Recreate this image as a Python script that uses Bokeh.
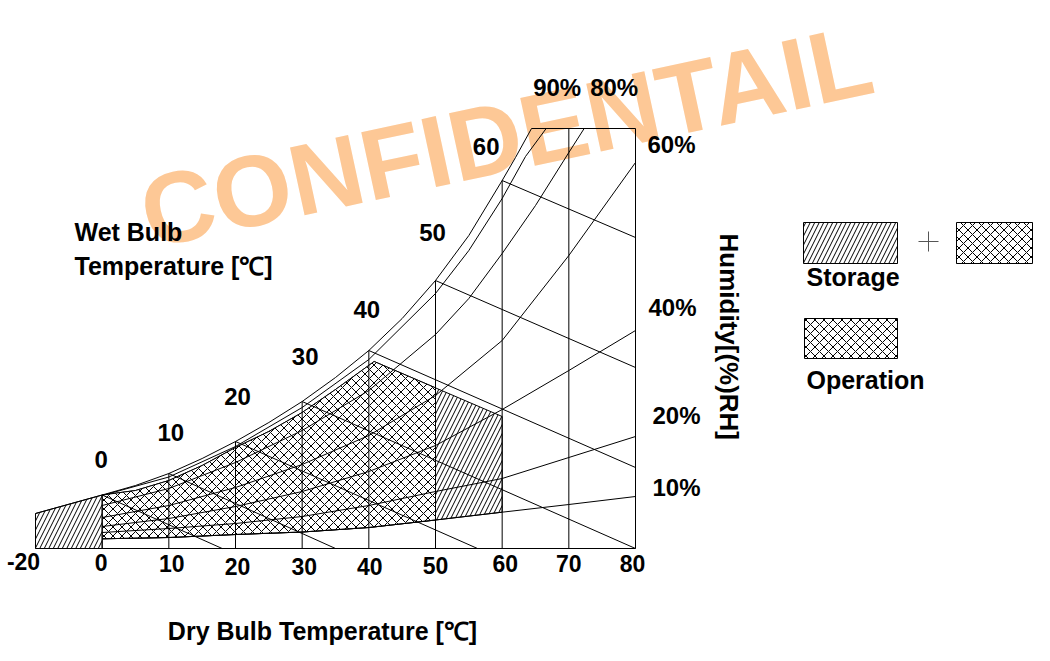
import numpy as np
from bokeh.plotting import figure
from bokeh.models import ColumnDataSource
from bokeh.core.properties import value
from bokeh.embed import file_html
from bokeh.resources import INLINE

# ---------------- data ----------------
# x: dry bulb temperature [°C]; h: chart humidity height (0 = base line, 420 = top of chart)
dry_bulb_ticks = [-20, 0, 10, 20, 30, 40, 50, 60, 70, 80]
wet_bulb_temps = [0, 10, 20, 30, 40, 50, 60]

sat_T = [-20, 0, 5, 10, 15, 20, 25, 30, 35, 40, 45, 50, 55, 60, 62, 64.4]
sat_h = [35, 53.5, 63, 75, 90, 107, 126, 147, 171, 198, 230, 268, 313, 368, 391, 420]

rh90_T = [0, 10, 20, 30, 40, 50, 55, 60, 63.5, 66.6]
rh90_h = [53, 71.5, 102, 141, 189, 255, 298, 350, 392, 420]
rh80_T = [0, 10, 20, 30, 40, 50, 55, 60, 65, 70, 72.3]
rh80_h = [43, 60, 86, 118, 158, 214, 250, 295, 343, 396, 420]
rh_T = [0, 10, 20, 30, 40, 50, 60, 70, 80]
rh60_h = [31, 43, 61, 84, 113, 153, 208, 293, 386]
rh40_h = [22, 30, 42, 57, 77, 103, 139, 178, 218]
rh20_h = [16, 20, 25, 32, 43, 57, 70, 91, 112]
rh10_h = [9.7, 11, 14, 16.5, 21, 28.5, 36.3, 44, 52]

# wet bulb lines: start on the saturation curve, end points
wb_end_T = [18, 35, 56.3, 80, 80, 80, 80]
wb_end_h = [0, 0, 0, 0, 81, 181, 311]

# boundary of the storage / operation zones (top edge)
zone_top_T = [0, 5, 10, 15, 20, 25, 30, 35, 40.8, 60]
zone_top_h = [53.5, 58, 68, 83, 101, 117, 136, 159, 187, 132]
storage_T = (-20, 60)
operation_T = (0, 50)
chart_top_h = 420

# ---------------- layout helpers ----------------
W, H = 1034, 645
PX_PER_DEG = 20 / 3
# picture position (px) of 0 °C and of the chart base line
X0_PAGE, Y0_PAGE = 101.67, 548


def xpos(T):
    # the -20..0 °C span is drawn at half scale
    return T if T >= 0 else T / 2


def xs(Ts):
    return [xpos(t) for t in Ts]


def px_x(page_x):
    return (page_x - X0_PAGE) / PX_PER_DEG


def px_y(page_y):
    return Y0_PAGE - page_y


p = figure(width=W, height=H,
           x_range=(px_x(0), px_x(W)), y_range=(px_y(H), px_y(0)),
           output_backend="svg", toolbar_location=None, min_border=0,
           x_axis_location=None, y_axis_location=None)
p.outline_line_color = None
p.grid.visible = False
p.background_fill_color = "white"
p.border_fill_color = "white"

FONT = value("Liberation Sans")
HATCH_SCALE = 9

# watermark (font size kept off x00px values)
p.text(x=[px_x(142)], y=[px_y(214)], text=["CONFIDENTAIL"], angle=0.212,
       text_font=value("Liberation Sans"), text_font_style="bold",
       text_font_size="101px", text_color="#FDC896",
       text_align="left", text_baseline="alphabetic")

# ---------------- zones ----------------
sT0, sT1 = storage_T
rh10_to60 = [(t, h) for t, h in zip(rh_T, rh10_h) if t <= sT1]
st_x = [sT0, sT0] + zone_top_T + [t for t, _ in reversed(rh10_to60)] + [0]
st_y = [0, sat_h[0]] + zone_top_h + [h for _, h in reversed(rh10_to60)] + [0]
p.patch(xs(st_x), st_y, fill_color="white", hatch_pattern="/", hatch_scale=HATCH_SCALE,
        hatch_weight=1, hatch_color="black", line_color="black", line_width=1)

oT0, oT1 = operation_T
op_top = [(t, h) for t, h in zip(zone_top_T, zone_top_h) if t < oT1]
op_bot = [(t, h) for t, h in zip(rh_T, rh10_h) if oT0 <= t < oT1]
op_x = [t for t, _ in op_top] + [oT1, oT1] + [t for t, _ in reversed(op_bot)]
op_y = ([h for _, h in op_top] + [float(np.interp(oT1, zone_top_T, zone_top_h)),
                                   float(np.interp(oT1, rh_T, rh10_h))]
        + [h for _, h in reversed(op_bot)])
p.patch(xs(op_x), op_y, fill_color="white", hatch_pattern="x", hatch_scale=HATCH_SCALE,
        hatch_weight=1, hatch_color="black", line_color="black", line_width=1)

# ---------------- grid of the chart ----------------
LC, LW = "black", 1
vert_T = [t for t in dry_bulb_ticks if 0 <= t < 80]
vert_top = [min(float(np.interp(t, sat_T, sat_h)), chart_top_h) for t in vert_T]
p.segment(x0=xs(vert_T), y0=[0] * len(vert_T), x1=xs(vert_T), y1=vert_top,
          line_color=LC, line_width=LW)
p.segment(x0=[80], y0=[0], x1=[80], y1=[chart_top_h], line_color=LC, line_width=LW)
p.segment(x0=[sat_T[-1]], y0=[chart_top_h], x1=[80], y1=[chart_top_h],
          line_color=LC, line_width=LW)
p.segment(x0=[xpos(-20)], y0=[0], x1=[80], y1=[0], line_color=LC, line_width=LW)

p.line(xs(sat_T), sat_h, line_color=LC, line_width=LW)
for Ts, hs in [(rh90_T, rh90_h), (rh80_T, rh80_h), (rh_T, rh60_h),
               (rh_T, rh40_h), (rh_T, rh20_h), (rh_T, rh10_h)]:
    p.line(xs(Ts), hs, line_color=LC, line_width=LW)

wb_start_h = [float(np.interp(t, sat_T, sat_h)) for t in wet_bulb_temps]
p.segment(x0=xs(wet_bulb_temps), y0=wb_start_h, x1=xs(wb_end_T), y1=wb_end_h,
          line_color=LC, line_width=LW)

# ---------------- labels ----------------
tick_src = ColumnDataSource(dict(
    x=xs(dry_bulb_ticks), y=[0] * len(dry_bulb_ticks),
    text=[str(t) for t in dry_bulb_ticks],
    xo=[-12, -1, 3, 2, 2, 1, 0, 3, 0, -3],
    yo=[13, 14, 15, 18, 18, 18, 17, 15, 15, 15]))
p.text(x="x", y="y", text="text", x_offset="xo", y_offset="yo", source=tick_src,
       text_font=FONT, text_font_style="bold", text_font_size="23px",
       text_color="black", text_align="center", text_baseline="alphabetic")

wb_src = ColumnDataSource(dict(
    x=xs(wet_bulb_temps), y=wb_start_h, text=[str(t) for t in wet_bulb_temps],
    xo=[-1, 2, 2, 3, -2, -3, -16], yo=[-36, -41, -45, -45, -41, -48, -34]))
p.text(x="x", y="y", text="text", x_offset="xo", y_offset="yo", source=wb_src,
       text_font=FONT, text_font_style="bold", text_font_size="24px",
       text_color="black", text_align="center", text_baseline="alphabetic")

top_src = ColumnDataSource(dict(
    x=[rh90_T[-1], rh80_T[-1]], y=[chart_top_h, chart_top_h], text=["90%", "80%"],
    xo=[11, 30], yo=[-41, -41]))
p.text(x="x", y="y", text="text", x_offset="xo", y_offset="yo", source=top_src,
       text_font=FONT, text_font_style="bold", text_font_size="24px",
       text_color="black", text_align="center", text_baseline="alphabetic")

side_src = ColumnDataSource(dict(
    x=[80] * 4, y=[rh60_h[-1], rh40_h[-1], rh20_h[-1], rh10_h[-1]],
    text=["60%", "40%", "20%", "10%"], xo=[12, 13, 17, 17], yo=[-18, -23, -21, -9]))
p.text(x="x", y="y", text="text", x_offset="xo", y_offset="yo", source=side_src,
       text_font=FONT, text_font_style="bold", text_font_size="24px",
       text_color="black", text_align="left", text_baseline="alphabetic")

static = [
    ("Wet Bulb", 74, 231, "left", 0.0, "25px"),
    ("Temperature [\u2103]", 74, 265, "left", 0.0, "25px"),
    ("Dry Bulb Temperature [\u2103]", 322, 630, "center", 0.0, "25px"),
    ("Storage", 806, 276, "left", 0.0, "25px"),
    ("Operation", 806, 379, "left", 0.0, "25px"),
    ("Humidity[(%)RH]", 728, 233, "left", -np.pi / 2, "26px"),
]
for txt, px, py, align, ang, size in static:
    p.text(x=[px_x(px)], y=[px_y(py)], text=[txt], angle=ang,
           text_font=FONT, text_font_style="bold", text_font_size=size,
           text_color="black", text_align=align, text_baseline="alphabetic")

# legend boxes
p.quad(left=[px_x(803)], right=[px_x(897)], top=[px_y(222)], bottom=[px_y(263)],
       fill_color="white", hatch_pattern="/", hatch_scale=HATCH_SCALE, hatch_weight=1,
       hatch_color="black", line_color="black", line_width=1)
p.quad(left=[px_x(956), px_x(804)], right=[px_x(1032), px_x(897)],
       top=[px_y(222), px_y(318)], bottom=[px_y(263), px_y(358)],
       fill_color="white", hatch_pattern="x", hatch_scale=HATCH_SCALE, hatch_weight=1,
       hatch_color="black", line_color="black", line_width=1)
p.scatter(x=[px_x(928)], y=[px_y(241)], marker="cross", size=20,
          line_color="#555555", line_width=1)

open("out.html", "w").write(file_html(p, INLINE))
